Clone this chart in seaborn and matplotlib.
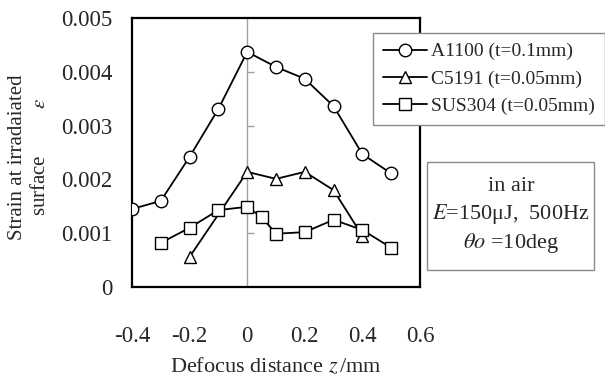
import matplotlib
matplotlib.use("Agg")
import matplotlib.pyplot as plt
import seaborn as sns
import pandas as pd
from matplotlib.patches import Rectangle

# ---- data ----
a_z = [-0.4, -0.3, -0.2, -0.1, 0.0, 0.1, 0.2, 0.3, 0.4, 0.5]
a_eps = [0.00145, 0.00160, 0.00242, 0.00331, 0.00437, 0.00409, 0.00387, 0.00336, 0.00247, 0.00211]

c_z = [-0.2, 0.0, 0.1, 0.2, 0.3, 0.4]
c_eps = [0.00056, 0.00214, 0.00201, 0.00214, 0.00180, 0.00095]

s_z = [-0.3, -0.2, -0.1, 0.0, 0.05, 0.1, 0.2, 0.3, 0.4, 0.5]
s_eps = [0.00082, 0.00110, 0.00143, 0.00149, 0.00130, 0.00099, 0.00102, 0.00125, 0.00106, 0.00073]

labels = ["A1100 (t=0.1mm)", "C5191 (t=0.05mm)", "SUS304 (t=0.05mm)"]
markers = ["o", "^", "s"]
x_ticks = [-0.4, -0.2, 0.0, 0.2, 0.4, 0.6]
x_ticklabels = ["-0.4", "-0.2", "0", "0.2", "0.4", "0.6"]
y_ticks = [0, 0.001, 0.002, 0.003, 0.004, 0.005]
y_ticklabels = ["0", "0.001", "0.002", "0.003", "0.004", "0.005"]

sns.set_style("white")
plt.rcParams["font.family"] = ["Liberation Serif", "DejaVu Serif"]
plt.rcParams["mathtext.fontset"] = "stix"

W, H = 605, 380
fig = plt.figure(figsize=(W / 100, H / 100), dpi=100)
ax = fig.add_axes([132 / W, 1 - 287 / H, (420 - 132) / W, (287 - 18) / H])

# gray axis at z = 0
ax.axvline(0, color="#a0a0a0", lw=1.0, zorder=1)
ax.plot([0] * 3, [0.001, 0.003, 0.004], ls="none", marker=1, ms=5,
        color="#a0a0a0", mew=1.0, zorder=1)

series = [(a_z, a_eps), (c_z, c_eps), (s_z, s_eps)]
for (zs, es), lab, mk in zip(series, labels, markers):
    df = pd.DataFrame({"z": zs, "eps": es})
    sns.lineplot(data=df, x="z", y="eps", ax=ax, sort=False, color="black",
                 lw=1.3, marker=mk, ms=9 if mk != "s" else 8.5, mfc="white",
                 mec="black", mew=1.0, label=lab, zorder=3)

ax.set_xlim(-0.4, 0.6)
ax.set_ylim(0, 0.005)
ax.set_xticks(x_ticks)
ax.set_xticklabels(x_ticklabels)
ax.set_yticks(y_ticks)
ax.set_yticklabels(y_ticklabels)
ax.tick_params(axis="x", direction="in", length=7, color="#a0a0a0",
               labelsize=16.5, pad=28)
ax.tick_params(axis="y", length=0, labelsize=16.5, pad=14)
for sp in ax.spines.values():
    sp.set_visible(True)
    sp.set_color("black")
    sp.set_linewidth(1.6)

ax.set_xlabel("")
ax.set_ylabel("")
handles, labs = ax.get_legend_handles_labels()
ax.get_legend().remove()

fig.text(276 / W, 1 - 367 / H, r"Defocus distance $z\,$/mm", ha="center",
         va="center", fontsize=16)
fig.text(29 / W, 1 - 157 / H, "Strain at irradaiated\nsurface" + " " * 9 + r"$\varepsilon$",
         rotation=90, ha="center", va="center", fontsize=15, linespacing=1.35,
         multialignment="center")

leg = fig.legend(handles, labs, loc="upper left",
                 bbox_to_anchor=(373 / W, 1 - 33 / H), frameon=True,
                 fancybox=False, edgecolor="#8a8a8a", framealpha=1,
                 fontsize=14, handlelength=2.3, handletextpad=0.2,
                 labelspacing=0.5, borderpad=0.5, borderaxespad=0)
leg.get_frame().set_linewidth(1.0)

# text box
fig.patches.append(Rectangle((427 / W, 1 - 270 / H), (594 - 427) / W, (270 - 162) / H,
                             transform=fig.transFigure, fill=True, fc="white",
                             ec="#8a8a8a", lw=1.0))
fig.text(511 / W, 1 - 216 / H,
         "in air\n" + r"$E$=150μJ,  500Hz" + "\n" + r"$\theta o$ =10deg",
         ha="center", va="center", fontsize=16, linespacing=1.3,
         multialignment="center")

fig.savefig("out.png", dpi=100)
